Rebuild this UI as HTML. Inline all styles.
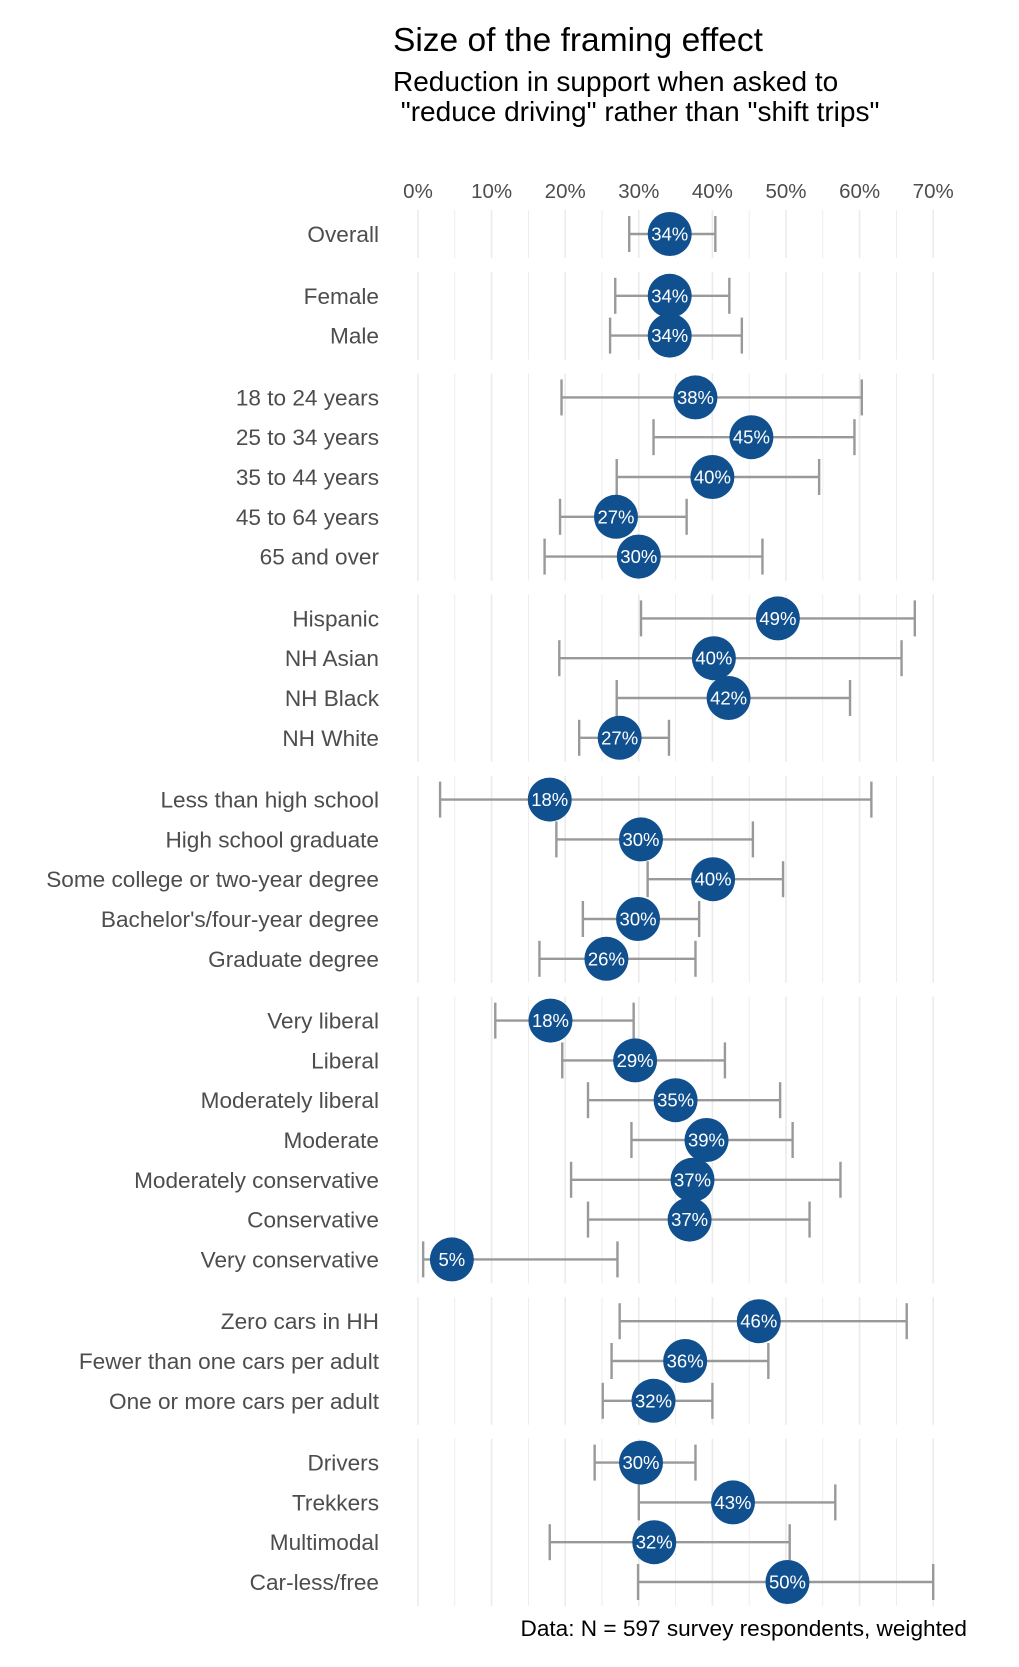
<!DOCTYPE html>
<html><head><meta charset="utf-8">
<style>
body{margin:0;background:#fff;}
svg{display:block;font-family:"Liberation Sans",Arial,sans-serif;}
</style></head>
<body>
<svg id="chart" width="1019" height="1667" viewBox="0 0 1019 1667">
<text x="393" y="51" font-size="33.5" fill="#000">Size of the framing effect</text>
<text x="393" y="91" font-size="28" fill="#000">Reduction in support when asked to</text>
<text x="393" y="121" font-size="28" fill="#000" xml:space="preserve"> "reduce driving" rather than "shift trips"</text>
<g id="grid"></g>
<g id="ticks"></g>
<g id="marks"></g>
<text x="967" y="1636" font-size="22.6" fill="#000" text-anchor="end">Data: N = 597 survey respondents, weighted</text>
</svg>
<script>
const categories = ["Overall","Female","Male","18 to 24 years","25 to 34 years","35 to 44 years","45 to 64 years","65 and over","Hispanic","NH Asian","NH Black","NH White","Less than high school","High school graduate","Some college or two-year degree","Bachelor's/four-year degree","Graduate degree","Very liberal","Liberal","Moderately liberal","Moderate","Moderately conservative","Conservative","Very conservative","Zero cars in HH","Fewer than one cars per adult","One or more cars per adult","Drivers","Trekkers","Multimodal","Car-less/free"];
const groups = [0,1,1,2,2,2,2,2,3,3,3,3,4,4,4,4,4,5,5,5,5,5,5,5,6,6,6,7,7,7,7];
const estimates = [34.2,34.2,34.2,37.7,45.3,40.0,26.9,30.0,48.9,40.2,42.2,27.4,17.9,30.3,40.1,29.9,25.6,18.0,29.5,35.0,39.2,37.3,36.9,4.6,46.3,36.3,32.0,30.3,42.8,32.1,50.2];
const lowerCI = [28.7,26.8,26.1,19.5,32.0,27.0,19.3,17.2,30.3,19.2,27.0,21.9,3.0,18.8,31.2,22.4,16.5,10.5,19.6,23.1,29.0,20.8,23.1,0.7,27.4,26.3,25.1,24.0,30.0,17.9,29.9];
const upperCI = [40.4,42.3,44.0,60.3,59.3,54.5,36.5,46.8,67.5,65.7,58.7,34.1,61.6,45.5,49.6,38.2,37.7,29.3,41.7,49.2,50.9,57.4,53.2,27.1,66.4,47.6,40.0,37.7,56.7,50.5,70.0];
const pointLabels = ["34%","34%","34%","38%","45%","40%","27%","30%","49%","40%","42%","27%","18%","30%","40%","30%","26%","18%","29%","35%","39%","37%","37%","5%","46%","36%","32%","30%","43%","32%","50%"];
const tickValues = [0,10,20,30,40,50,60,70];
const tickLabels = ["0%","10%","20%","30%","40%","50%","60%","70%"];

const NS="http://www.w3.org/2000/svg";
const X0=418, PX=7.36;
function xScale(v){return X0+v*PX;}
const ROW=39.8, GAP=22.0, Y0=234;
function yScale(i){return Y0+i*ROW+groups[i]*GAP;}
function mk(tag,attrs,parent){const e=document.createElementNS(NS,tag);for(const k in attrs)e.setAttribute(k,attrs[k]);parent.appendChild(e);return e;}
const grid=document.getElementById('grid'),ticks=document.getElementById('ticks'),marks=document.getElementById('marks');

const nG=Math.max(...groups)+1;
for(let g=0;g<nG;g++){
  const idx=groups.map((v,i)=>v===g?i:-1).filter(i=>i>=0);
  const top=yScale(idx[0])-24, bot=yScale(idx[idx.length-1])+24;
  for(let v=0;v<=70;v+=5){
    const l=mk('line',{x1:xScale(v),x2:xScale(v),y1:top,y2:bot,stroke:'#ebebeb','stroke-width':v%10===0?1.6:0.9},grid);
    
    
  }
}
tickValues.forEach((v,i)=>{
  const t=mk('text',{x:xScale(v),y:198,'font-size':20.5,fill:'#4d4d4d','text-anchor':'middle'},ticks);
  t.textContent=tickLabels[i];
  
  
});
categories.forEach((c,i)=>{
  const y=yScale(i);
  const lab=mk('text',{x:379,y:y+8,'font-size':22.6,fill:'#4d4d4d','text-anchor':'end'},marks);
  lab.textContent=c;
  
  
  const g=mk('g',{},marks);
  
  
  const xl=xScale(lowerCI[i]),xh=xScale(upperCI[i]);
  mk('line',{x1:xl,x2:xh,y1:y,y2:y,stroke:'#999','stroke-width':2.4},g);
  mk('line',{x1:xl,x2:xl,y1:y-18,y2:y+18,stroke:'#999','stroke-width':2.4},g);
  mk('line',{x1:xh,x2:xh,y1:y-18,y2:y+18,stroke:'#999','stroke-width':2.4},g);
  const cx=xScale(estimates[i]);
  const c1=mk('circle',{cx:cx,cy:y,r:22,fill:'#11508f'},marks);
  
  
  const t=mk('text',{x:cx,y:y+6.5,'font-size':18.5,fill:'#fff','text-anchor':'middle'},marks);
  t.textContent=pointLabels[i];
  
  
});
</script>
</body></html>
